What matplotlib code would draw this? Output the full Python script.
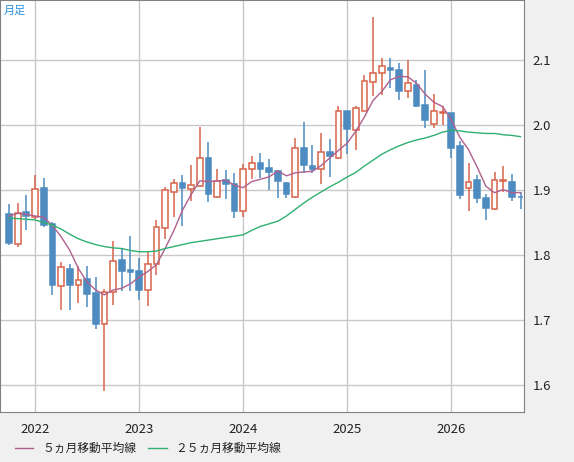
import matplotlib
matplotlib.use('Agg')
import matplotlib.pyplot as plt
import numpy as np
import pandas as pd

plt.rcParams['font.family'] = ['Noto Sans CJK JP', 'DejaVu Sans']

# Monthly candles, Oct 2021 .. Sep 2026
opens = [1.8626, 1.8174, 1.8656, 1.8585, 1.9026, 1.847, 1.752, 1.778, 1.754, 1.7626,
         1.741, 1.694, 1.7436, 1.792, 1.7764, 1.775, 1.746, 1.7867, 1.842, 1.8964,
         1.9103, 1.901, 1.906, 1.950, 1.8897, 1.915, 1.910, 1.867, 1.932, 1.9415,
         1.934, 1.9297, 1.9108, 1.890, 1.9646, 1.937, 1.932, 1.9585, 1.9497, 2.0215,
         1.9923, 2.0215, 2.0667, 2.080, 2.0877, 2.085, 2.0518, 2.062, 2.031, 2.0015,
         2.018, 2.0185, 1.967, 1.903, 1.916, 1.8877, 1.8708, 1.9133, 1.9123, 1.8892]
closes = [1.818, 1.865, 1.860, 1.902, 1.8456, 1.754, 1.781, 1.754, 1.762, 1.740,
          1.694, 1.7436, 1.7913, 1.7754, 1.7733, 1.746, 1.7867, 1.8436, 1.8995, 1.9103,
          1.9036, 1.9072, 1.950, 1.894, 1.9144, 1.9097, 1.868, 1.932, 1.941, 1.932,
          1.928, 1.914, 1.894, 1.964, 1.939, 1.933, 1.958, 1.953, 2.0215, 1.9944,
          2.026, 2.0677, 2.080, 2.0903, 2.084, 2.0518, 2.065, 2.0297, 2.0072, 2.0215,
          2.0195, 1.9646, 1.892, 1.913, 1.8872, 1.8723, 1.9149, 1.9159, 1.8887, 1.8887]
highs = [1.878, 1.8795, 1.892, 1.9226, 1.918, 1.851, 1.789, 1.786, 1.7826, 1.7826,
         1.766, 1.747, 1.8215, 1.8087, 1.8287, 1.796, 1.8046, 1.8533, 1.9046, 1.917,
         1.923, 1.9385, 1.9964, 1.974, 1.933, 1.931, 1.9267, 1.9395, 1.9523, 1.957,
         1.9477, 1.931, 1.913, 1.9805, 2.0046, 1.969, 1.9877, 1.9785, 2.029, 2.0215,
         2.030, 2.0774, 2.1656, 2.103, 2.103, 2.0954, 2.1005, 2.0697, 2.085, 2.0477,
         2.0287, 2.0185, 1.975, 1.9415, 1.9226, 1.8944, 1.9277, 1.9364, 1.925, 1.8974]
lows = [1.815, 1.812, 1.838, 1.856, 1.8436, 1.738, 1.716, 1.716, 1.7256, 1.720,
        1.686, 1.591, 1.723, 1.7446, 1.7446, 1.731, 1.7215, 1.770, 1.824, 1.858,
        1.845, 1.8836, 1.905, 1.882, 1.888, 1.886, 1.857, 1.858, 1.917, 1.919,
        1.900, 1.888, 1.888, 1.888, 1.9256, 1.9267, 1.910, 1.9205, 1.947, 1.955,
        1.962, 2.0215, 2.045, 2.0467, 2.0564, 2.039, 2.041, 2.0277, 1.9954, 1.9954,
        2.000, 1.949, 1.886, 1.8672, 1.880, 1.8533, 1.8692, 1.8964, 1.8836, 1.8713]
ma5_head = [1.860, 1.864, 1.8626, 1.860]  # (needs earlier data)
ma25 = [1.857, 1.856, 1.855, 1.854, 1.850, 1.846, 1.840, 1.832, 1.825, 1.820,
        1.816, 1.813, 1.811, 1.810, 1.807, 1.805, 1.805, 1.806, 1.810, 1.813,
        1.816, 1.819, 1.821, 1.823, 1.825, 1.827, 1.829, 1.831, 1.838, 1.844,
        1.848, 1.852, 1.860, 1.870, 1.880, 1.889, 1.897, 1.905, 1.912, 1.920,
        1.927, 1.937, 1.946, 1.955, 1.962, 1.968, 1.973, 1.977, 1.980, 1.984,
        1.989, 1.992, 1.991, 1.989, 1.988, 1.987, 1.987, 1.985, 1.984, 1.982]
year_labels = ['2022', '2023', '2024', '2025', '2026']
year_idx = [3, 15, 27, 39, 51]
yticks = [1.6, 1.7, 1.8, 1.9, 2.0, 2.1]

ma5 = pd.Series(closes).rolling(5).mean().values
ma5[:4] = ma5_head

RED = '#d8644c'
BLUE = '#4d8bc0'

fig = plt.figure(figsize=(5.74, 4.62), dpi=100, facecolor='#f0f0f0')
ax = fig.add_axes([0.0, 50 / 462, 524 / 574, 412 / 462])
ax.set_facecolor('white')

x = np.arange(len(opens))
for i in x:
    o, c, h, l = opens[i], closes[i], highs[i], lows[i]
    up = c >= o
    col = RED if up else BLUE
    ax.vlines(i, l, h, color=col, lw=1.1, zorder=3)
    bot, top = min(o, c), max(o, c)
    ht = max(top - bot, 0.0008)
    ax.add_patch(plt.Rectangle((i - 0.33, bot), 0.66, ht,
                               facecolor='white' if up else col,
                               edgecolor=col, lw=1.1, zorder=4))

ax.plot(x, ma5, color='#b0608e', lw=1.0, zorder=5)
ax.plot(x, ma25, color='#2fb070', lw=1.0, zorder=5)

ax.set_xlim(-1.04, 59.4)
ax.set_ylim(1.5585, 2.1923)
ax.set_xticks(year_idx)
ax.set_xticklabels(year_labels)
ax.set_yticks(yticks)
ax.set_yticklabels([f'{v:.1f}' for v in yticks])
ax.yaxis.tick_right()
ax.tick_params(length=0, labelsize=9.5, colors='#222222', pad=6)
ax.tick_params(axis='x', pad=8)
ax.grid(True, color='#c8c8c8', lw=1.0, zorder=0)
ax.set_axisbelow(True)
for s in ax.spines.values():
    s.set_color('#808080')

ax.text(0.008, 0.985, '月足', transform=ax.transAxes, color='#2a90e0',
        fontsize=8, va='top', ha='left')

# legend
fig.lines.append(plt.Line2D([15 / 574, 33 / 574], [1 - 448 / 462] * 2,
                            color='#b0608e', lw=1, transform=fig.transFigure))
fig.text(42 / 574, 1 - 448 / 462, '５ヵ月移動平均線', fontsize=8.5,
         va='center', color='#222222')
fig.lines.append(plt.Line2D([148 / 574, 167 / 574], [1 - 448 / 462] * 2,
                            color='#2fb070', lw=1, transform=fig.transFigure))
fig.text(175 / 574, 1 - 448 / 462, '２５ヵ月移動平均線', fontsize=8.5,
         va='center', color='#222222')

fig.savefig('out.png', dpi=100, facecolor=fig.get_facecolor())
